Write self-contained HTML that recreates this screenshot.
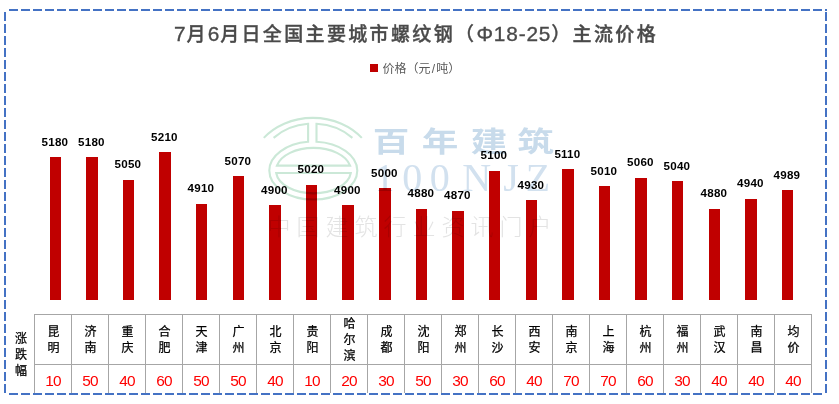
<!DOCTYPE html>
<html lang="zh-CN">
<head>
<meta charset="utf-8">
<title>7月6月日全国主要城市螺纹钢（Φ18-25）主流价格</title>
<style>
html,body{margin:0;padding:0;background:#fff;}
body{width:839px;height:404px;position:relative;overflow:hidden;font-family:"Liberation Sans","Noto Sans CJK SC",sans-serif;}
#chart{position:absolute;left:0;top:0;width:839px;height:404px;display:block;}
.title{position:absolute;left:0;top:19px;width:832px;text-align:center;font-size:19px;line-height:30px;font-weight:500;color:#4a4a4a;-webkit-text-stroke:0.35px #4a4a4a;white-space:nowrap;letter-spacing:2.35px;}
.title b{font-weight:inherit;font-size:20.8px;letter-spacing:0.85px;}
.legend{position:absolute;left:382.5px;top:61px;font-size:12px;line-height:17px;color:#595959;white-space:nowrap;}
.lgbox{position:absolute;left:370px;top:64px;width:8px;height:8px;background:#c00000;}
.city{-webkit-text-stroke:0.25px #000;position:absolute;top:315.4px;width:37px;height:49px;display:flex;align-items:center;justify-content:center;text-align:center;font-size:12px;line-height:16px;color:#000;font-family:"Liberation Sans","Noto Sans CJK SC",sans-serif;}
.city span{display:block;width:12px;word-break:break-all;}
.chg{position:absolute;top:365px;width:37px;height:28px;text-align:center;font-size:15.4px;letter-spacing:-0.8px;text-indent:-0.8px;line-height:32px;color:#ff0000;font-family:"Liberation Sans",sans-serif;}
.side{-webkit-text-stroke:0.25px #000;position:absolute;left:15px;top:331px;width:12px;font-size:12px;line-height:16px;color:#000;text-align:center;word-break:break-all;font-family:"Liberation Sans","Noto Sans CJK SC",sans-serif;}
.lab{font-family:"Liberation Sans",sans-serif;font-weight:bold;font-size:11.6px;letter-spacing:0.2px;fill:#000;text-anchor:middle;}
</style>
</head>
<body>
<svg id="chart" width="839" height="404" viewBox="0 0 839 404">
<g fill="#c00000" shape-rendering="crispEdges">
<rect x="50" y="157" width="11" height="143"/>
<rect x="86" y="157" width="12" height="143"/>
<rect x="123" y="180" width="11" height="120"/>
<rect x="159" y="152" width="12" height="148"/>
<rect x="196" y="204" width="11" height="96"/>
<rect x="233" y="176" width="11" height="124"/>
<rect x="269" y="205" width="12" height="95"/>
<rect x="306" y="185" width="11" height="115"/>
<rect x="342" y="205" width="12" height="95"/>
<rect x="379" y="188" width="12" height="112"/>
<rect x="416" y="209" width="11" height="91"/>
<rect x="452" y="211" width="12" height="89"/>
<rect x="489" y="171" width="11" height="129"/>
<rect x="526" y="200" width="11" height="100"/>
<rect x="562" y="169" width="12" height="131"/>
<rect x="599" y="186" width="11" height="114"/>
<rect x="635" y="178" width="12" height="122"/>
<rect x="672" y="181" width="11" height="119"/>
<rect x="709" y="209" width="11" height="91"/>
<rect x="745" y="199" width="12" height="101"/>
<rect x="782" y="190" width="11" height="110"/>
</g>
<g>
<text class="lab" x="54.9" y="146">5180</text>
<text class="lab" x="91.4" y="146">5180</text>
<text class="lab" x="127.9" y="168">5050</text>
<text class="lab" x="164.4" y="141">5210</text>
<text class="lab" x="200.9" y="192">4910</text>
<text class="lab" x="237.9" y="165">5070</text>
<text class="lab" x="274.4" y="194">4900</text>
<text class="lab" x="310.9" y="173">5020</text>
<text class="lab" x="347.4" y="194">4900</text>
<text class="lab" x="384.4" y="177">5000</text>
<text class="lab" x="420.9" y="197">4880</text>
<text class="lab" x="457.4" y="199">4870</text>
<text class="lab" x="493.9" y="159">5100</text>
<text class="lab" x="530.9" y="189">4930</text>
<text class="lab" x="567.4" y="158">5110</text>
<text class="lab" x="603.9" y="175">5010</text>
<text class="lab" x="640.4" y="166">5060</text>
<text class="lab" x="676.9" y="170">5040</text>
<text class="lab" x="713.9" y="197">4880</text>
<text class="lab" x="750.4" y="187">4940</text>
<text class="lab" x="786.9" y="179">4989</text>
</g>
<g id="wm" style="mix-blend-mode:multiply">
<g fill="none" stroke="#cbe8d7" stroke-width="2.1">
<path d="M263.8 137.9 A62.4 52.6 0 0 1 361.8 137.9"/>
<path d="M352.4 137.9 A54.8 46.9 0 0 0 316.5 123.8 L316.5 141.8 A44 29 0 0 1 357.3 170.5 A44 29 0 0 1 269.3 170.5 A44 29 0 0 1 308.1 141.8 L308.1 123.8 A54.8 46.9 0 0 0 273.6 137.9"/>
<path d="M276.9 165.6 A37.5 22.7 0 0 1 350.1 165.6 Z"/>
<path d="M276.2 173 A37.5 22.7 0 0 0 350.8 173 Z"/>
</g>
<text transform="translate(0,151.5) scale(1.22,0.95)" x="320.5 360.7 400.8 438.9" y="0" text-anchor="middle" font-family="'Liberation Sans','Noto Sans CJK SC',sans-serif" font-weight="700" font-size="30" fill="#c8dbeb">百年建筑</text>
<text x="384.6 412.2 439.8 476.8 511 538" y="191.3" text-anchor="middle" font-family="'Liberation Serif',serif" font-size="40" fill="#d2e1ef">100NJZ</text>
<text x="279.0 308.0 337.0 366.0 395.0 424.0 453.0 482.0 511.0 540.0" y="234.6" text-anchor="middle" font-family="'Liberation Sans','Noto Sans CJK SC',sans-serif" font-weight="300" font-size="23" fill="#e3e3e3">中国建筑行业资讯门户</text>
</g>
<g fill="#a6a6a6">
<rect x="34" y="314" width="778" height="1"/>
<rect x="34" y="364" width="778" height="1"/>
<rect x="34" y="314" width="1" height="79"/>
<rect x="71" y="314" width="1" height="79"/>
<rect x="108" y="314" width="1" height="79"/>
<rect x="145" y="314" width="1" height="79"/>
<rect x="182" y="314" width="1" height="79"/>
<rect x="219" y="314" width="1" height="79"/>
<rect x="256" y="314" width="1" height="79"/>
<rect x="293" y="314" width="1" height="79"/>
<rect x="330" y="314" width="1" height="79"/>
<rect x="367" y="314" width="1" height="79"/>
<rect x="404" y="314" width="1" height="79"/>
<rect x="441" y="314" width="1" height="79"/>
<rect x="478" y="314" width="1" height="79"/>
<rect x="515" y="314" width="1" height="79"/>
<rect x="552" y="314" width="1" height="79"/>
<rect x="589" y="314" width="1" height="79"/>
<rect x="626" y="314" width="1" height="79"/>
<rect x="663" y="314" width="1" height="79"/>
<rect x="700" y="314" width="1" height="79"/>
<rect x="737" y="314" width="1" height="79"/>
<rect x="774" y="314" width="1" height="79"/>
<rect x="811" y="314" width="1" height="79"/>
</g>
<g fill="#4472c4">
<rect x="9" y="9" width="9" height="2"/><rect x="21" y="9" width="9" height="2"/><rect x="33" y="9" width="9" height="2"/><rect x="45" y="9" width="9" height="2"/><rect x="57" y="9" width="9" height="2"/><rect x="69" y="9" width="9" height="2"/><rect x="81" y="9" width="9" height="2"/><rect x="93" y="9" width="9" height="2"/><rect x="105" y="9" width="9" height="2"/><rect x="117" y="9" width="9" height="2"/><rect x="129" y="9" width="9" height="2"/><rect x="141" y="9" width="9" height="2"/><rect x="153" y="9" width="9" height="2"/><rect x="165" y="9" width="9" height="2"/><rect x="177" y="9" width="9" height="2"/><rect x="189" y="9" width="9" height="2"/><rect x="201" y="9" width="9" height="2"/><rect x="213" y="9" width="9" height="2"/><rect x="225" y="9" width="9" height="2"/><rect x="237" y="9" width="9" height="2"/><rect x="249" y="9" width="9" height="2"/><rect x="261" y="9" width="9" height="2"/><rect x="273" y="9" width="9" height="2"/><rect x="285" y="9" width="9" height="2"/><rect x="297" y="9" width="9" height="2"/><rect x="309" y="9" width="9" height="2"/><rect x="321" y="9" width="9" height="2"/><rect x="333" y="9" width="9" height="2"/><rect x="345" y="9" width="9" height="2"/><rect x="357" y="9" width="9" height="2"/><rect x="369" y="9" width="9" height="2"/><rect x="381" y="9" width="9" height="2"/><rect x="393" y="9" width="9" height="2"/><rect x="405" y="9" width="9" height="2"/><rect x="417" y="9" width="9" height="2"/><rect x="429" y="9" width="9" height="2"/><rect x="441" y="9" width="9" height="2"/><rect x="453" y="9" width="9" height="2"/><rect x="465" y="9" width="9" height="2"/><rect x="477" y="9" width="9" height="2"/><rect x="489" y="9" width="9" height="2"/><rect x="501" y="9" width="9" height="2"/><rect x="513" y="9" width="9" height="2"/><rect x="525" y="9" width="9" height="2"/><rect x="537" y="9" width="9" height="2"/><rect x="549" y="9" width="9" height="2"/><rect x="561" y="9" width="9" height="2"/><rect x="573" y="9" width="9" height="2"/><rect x="585" y="9" width="9" height="2"/><rect x="597" y="9" width="9" height="2"/><rect x="609" y="9" width="9" height="2"/><rect x="621" y="9" width="9" height="2"/><rect x="633" y="9" width="9" height="2"/><rect x="645" y="9" width="9" height="2"/><rect x="657" y="9" width="9" height="2"/><rect x="669" y="9" width="9" height="2"/><rect x="681" y="9" width="9" height="2"/><rect x="693" y="9" width="9" height="2"/><rect x="705" y="9" width="9" height="2"/><rect x="717" y="9" width="9" height="2"/><rect x="729" y="9" width="9" height="2"/><rect x="741" y="9" width="9" height="2"/><rect x="753" y="9" width="9" height="2"/><rect x="765" y="9" width="9" height="2"/><rect x="777" y="9" width="9" height="2"/><rect x="789" y="9" width="9" height="2"/><rect x="801" y="9" width="9" height="2"/><rect x="813" y="9" width="9" height="2"/><rect x="825" y="9" width="2" height="2"/>
<rect x="9" y="393" width="9" height="2"/><rect x="21" y="393" width="9" height="2"/><rect x="33" y="393" width="9" height="2"/><rect x="45" y="393" width="9" height="2"/><rect x="57" y="393" width="9" height="2"/><rect x="69" y="393" width="9" height="2"/><rect x="81" y="393" width="9" height="2"/><rect x="93" y="393" width="9" height="2"/><rect x="105" y="393" width="9" height="2"/><rect x="117" y="393" width="9" height="2"/><rect x="129" y="393" width="9" height="2"/><rect x="141" y="393" width="9" height="2"/><rect x="153" y="393" width="9" height="2"/><rect x="165" y="393" width="9" height="2"/><rect x="177" y="393" width="9" height="2"/><rect x="189" y="393" width="9" height="2"/><rect x="201" y="393" width="9" height="2"/><rect x="213" y="393" width="9" height="2"/><rect x="225" y="393" width="9" height="2"/><rect x="237" y="393" width="9" height="2"/><rect x="249" y="393" width="9" height="2"/><rect x="261" y="393" width="9" height="2"/><rect x="273" y="393" width="9" height="2"/><rect x="285" y="393" width="9" height="2"/><rect x="297" y="393" width="9" height="2"/><rect x="309" y="393" width="9" height="2"/><rect x="321" y="393" width="9" height="2"/><rect x="333" y="393" width="9" height="2"/><rect x="345" y="393" width="9" height="2"/><rect x="357" y="393" width="9" height="2"/><rect x="369" y="393" width="9" height="2"/><rect x="381" y="393" width="9" height="2"/><rect x="393" y="393" width="9" height="2"/><rect x="405" y="393" width="9" height="2"/><rect x="417" y="393" width="9" height="2"/><rect x="429" y="393" width="9" height="2"/><rect x="441" y="393" width="9" height="2"/><rect x="453" y="393" width="9" height="2"/><rect x="465" y="393" width="9" height="2"/><rect x="477" y="393" width="9" height="2"/><rect x="489" y="393" width="9" height="2"/><rect x="501" y="393" width="9" height="2"/><rect x="513" y="393" width="9" height="2"/><rect x="525" y="393" width="9" height="2"/><rect x="537" y="393" width="9" height="2"/><rect x="549" y="393" width="9" height="2"/><rect x="561" y="393" width="9" height="2"/><rect x="573" y="393" width="9" height="2"/><rect x="585" y="393" width="9" height="2"/><rect x="597" y="393" width="9" height="2"/><rect x="609" y="393" width="9" height="2"/><rect x="621" y="393" width="9" height="2"/><rect x="633" y="393" width="9" height="2"/><rect x="645" y="393" width="9" height="2"/><rect x="657" y="393" width="9" height="2"/><rect x="669" y="393" width="9" height="2"/><rect x="681" y="393" width="9" height="2"/><rect x="693" y="393" width="9" height="2"/><rect x="705" y="393" width="9" height="2"/><rect x="717" y="393" width="9" height="2"/><rect x="729" y="393" width="9" height="2"/><rect x="741" y="393" width="9" height="2"/><rect x="753" y="393" width="9" height="2"/><rect x="765" y="393" width="9" height="2"/><rect x="777" y="393" width="9" height="2"/><rect x="789" y="393" width="9" height="2"/><rect x="801" y="393" width="9" height="2"/><rect x="813" y="393" width="9" height="2"/>
<rect x="4" y="12" width="2" height="9"/><rect x="825" y="12" width="2" height="9"/><rect x="4" y="24" width="2" height="9"/><rect x="825" y="24" width="2" height="9"/><rect x="4" y="36" width="2" height="9"/><rect x="825" y="36" width="2" height="9"/><rect x="4" y="48" width="2" height="9"/><rect x="825" y="48" width="2" height="9"/><rect x="4" y="60" width="2" height="9"/><rect x="825" y="60" width="2" height="9"/><rect x="4" y="72" width="2" height="9"/><rect x="825" y="72" width="2" height="9"/><rect x="4" y="84" width="2" height="9"/><rect x="825" y="84" width="2" height="9"/><rect x="4" y="96" width="2" height="9"/><rect x="825" y="96" width="2" height="9"/><rect x="4" y="108" width="2" height="9"/><rect x="825" y="108" width="2" height="9"/><rect x="4" y="120" width="2" height="9"/><rect x="825" y="120" width="2" height="9"/><rect x="4" y="132" width="2" height="9"/><rect x="825" y="132" width="2" height="9"/><rect x="4" y="144" width="2" height="9"/><rect x="825" y="144" width="2" height="9"/><rect x="4" y="156" width="2" height="9"/><rect x="825" y="156" width="2" height="9"/><rect x="4" y="168" width="2" height="9"/><rect x="825" y="168" width="2" height="9"/><rect x="4" y="180" width="2" height="9"/><rect x="825" y="180" width="2" height="9"/><rect x="4" y="192" width="2" height="9"/><rect x="825" y="192" width="2" height="9"/><rect x="4" y="204" width="2" height="9"/><rect x="825" y="204" width="2" height="9"/><rect x="4" y="216" width="2" height="9"/><rect x="825" y="216" width="2" height="9"/><rect x="4" y="228" width="2" height="9"/><rect x="825" y="228" width="2" height="9"/><rect x="4" y="240" width="2" height="9"/><rect x="825" y="240" width="2" height="9"/><rect x="4" y="252" width="2" height="9"/><rect x="825" y="252" width="2" height="9"/><rect x="4" y="264" width="2" height="9"/><rect x="825" y="264" width="2" height="9"/><rect x="4" y="276" width="2" height="9"/><rect x="825" y="276" width="2" height="9"/><rect x="4" y="288" width="2" height="9"/><rect x="825" y="288" width="2" height="9"/><rect x="4" y="300" width="2" height="9"/><rect x="825" y="300" width="2" height="9"/><rect x="4" y="312" width="2" height="9"/><rect x="825" y="312" width="2" height="9"/><rect x="4" y="324" width="2" height="9"/><rect x="825" y="324" width="2" height="9"/><rect x="4" y="336" width="2" height="9"/><rect x="825" y="336" width="2" height="9"/><rect x="4" y="348" width="2" height="9"/><rect x="825" y="348" width="2" height="9"/><rect x="4" y="360" width="2" height="9"/><rect x="825" y="360" width="2" height="9"/><rect x="4" y="372" width="2" height="9"/><rect x="825" y="372" width="2" height="9"/><rect x="4" y="384" width="2" height="9"/><rect x="825" y="384" width="2" height="9"/>
</g>
</svg>
<div class="title"><b>7</b>月<b>6</b>月日全国主要城市螺纹钢（<b>Φ18-25</b>）主流价格</div>
<div class="lgbox"></div><div class="legend">价格（元<span style="margin:0 1.2px">/</span>吨）</div>
<div class="side">涨跌幅</div>
<div class="city" style="left:35px"><span>昆明</span></div><div class="city" style="left:72px"><span>济南</span></div><div class="city" style="left:109px"><span>重庆</span></div><div class="city" style="left:146px"><span>合肥</span></div><div class="city" style="left:183px"><span>天津</span></div><div class="city" style="left:220px"><span>广州</span></div><div class="city" style="left:257px"><span>北京</span></div><div class="city" style="left:294px"><span>贵阳</span></div><div class="city" style="left:331px"><span>哈尔滨</span></div><div class="city" style="left:368px"><span>成都</span></div><div class="city" style="left:405px"><span>沈阳</span></div><div class="city" style="left:442px"><span>郑州</span></div><div class="city" style="left:479px"><span>长沙</span></div><div class="city" style="left:516px"><span>西安</span></div><div class="city" style="left:553px"><span>南京</span></div><div class="city" style="left:590px"><span>上海</span></div><div class="city" style="left:627px"><span>杭州</span></div><div class="city" style="left:664px"><span>福州</span></div><div class="city" style="left:701px"><span>武汉</span></div><div class="city" style="left:738px"><span>南昌</span></div><div class="city" style="left:775px"><span>均价</span></div>
<div class="chg" style="left:35px">10</div><div class="chg" style="left:72px">50</div><div class="chg" style="left:109px">40</div><div class="chg" style="left:146px">60</div><div class="chg" style="left:183px">50</div><div class="chg" style="left:220px">50</div><div class="chg" style="left:257px">40</div><div class="chg" style="left:294px">10</div><div class="chg" style="left:331px">20</div><div class="chg" style="left:368px">30</div><div class="chg" style="left:405px">50</div><div class="chg" style="left:442px">30</div><div class="chg" style="left:479px">60</div><div class="chg" style="left:516px">40</div><div class="chg" style="left:553px">70</div><div class="chg" style="left:590px">70</div><div class="chg" style="left:627px">60</div><div class="chg" style="left:664px">30</div><div class="chg" style="left:701px">40</div><div class="chg" style="left:738px">40</div><div class="chg" style="left:775px">40</div>
</body>
</html>
